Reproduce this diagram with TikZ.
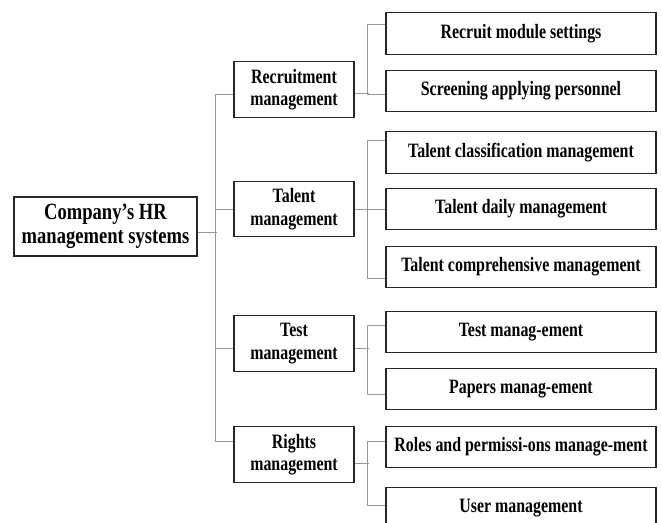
\documentclass[tikz,border=0pt]{standalone}
\usepackage{fontspec}
\newfontfamily\hrfont[FakeStretch=0.78]{Liberation Serif}
\newfontfamily\hrrootfont[FakeStretch=0.8]{Liberation Serif}
\usetikzlibrary{calc}

\begin{document}
\begin{tikzpicture}[
    x=0.025cm, y=-0.025cm,
    topbox/.style={draw=black!85, line width=0.9pt, rectangle, inner sep=0pt, align=center, minimum width=4.575cm, minimum height=1.475cm, font=\hrrootfont\bfseries\fontsize{16.5}{17.1}\selectfont},
    midbox/.style={draw=black!85, line width=0.9pt, rectangle, inner sep=0pt, align=center, minimum width=3cm, minimum height=1.39cm, font=\hrfont\bfseries\fontsize{14.5}{16}\selectfont},
    leafbox/.style={draw=black!85, line width=0.9pt, rectangle, inner sep=0pt, align=center, minimum width=6.75cm, minimum height=1.04cm, font=\hrfont\bfseries\fontsize{14.5}{16}\selectfont},
    link/.style={draw=black!40, line width=0.6pt}
]
    \useasboundingbox (0,0) rectangle (662,523);
    \clip (0,0) rectangle (662,523);

    \node[topbox] (hr) at (105.5,226.5) {Company’s HR\\management systems};

    \node[midbox] (recruit) at (294,89.5) {Recruitment\\management};
    \node[midbox] (talent) at (294,209) {Talent\\management};
    \node[midbox] (test) at (294,343.5) {Test\\management};
    \node[midbox] (rights) at (294,454.5) {Rights\\management};

    \node[leafbox] (r1) at (521,33.5) {Recruit module settings};
    \node[leafbox] (r2) at (521,91) {Screening applying personnel};
    \node[leafbox] (t1) at (521,152.5) {Talent classification management};
    \node[leafbox] (t2) at (521,209) {Talent daily management};
    \node[leafbox] (t3) at (521,267) {Talent comprehensive management};
    \node[leafbox] (s1) at (521,332) {Test manag-ement};
    \node[leafbox] (s2) at (521,389) {Papers manag-ement};
    \node[leafbox] (g1) at (521,447) {Roles and permissi-ons manage-ment};
    \node[leafbox] (g2) at (521,508) {User management};

    % trunk from the root
    \draw[link] ($(hr.east)+(0,5.5)$) -- ++(19,0);
    \draw[link] ($(recruit.west)+(0,4.5)$) -- ++(-18,0) |- ($(rights.west)+(0,-13.5)$);
    \draw[link] (talent.west) -- ++(-18,0);
    \draw[link] ($(test.west)+(0,4.5)$) -- ++(-18,0);

    % branches to the leaves
    \draw[link] ($(recruit.east)+(0,3.5)$) -- ++(14,0);
    \draw[link] ($(r1.west)+(0,-9.5)$) -- ++(-18,0) |- ($(r2.west)+(0,3)$);
    \draw[link] ($(t1.west)+(0,-12.5)$) -- ++(-18,0) |- ($(t3.west)+(0,11)$);
    \draw[link] (talent.east) -- (t2.west);
    \draw[link] ($(test.east)+(0,4.5)$) -- ++(14,0);
    \draw[link] ($(s1.west)+(0,-7)$) -- ++(-18,0) |- ($(s2.west)+(0,5)$);
    \draw[link] ($(rights.east)+(0,8.5)$) -- ++(14,0);
    \draw[link] ($(g1.west)+(0,-6)$) -- ++(-18,0) |- ($(g2.west)+(0,-3)$);

\end{tikzpicture}
\end{document}
